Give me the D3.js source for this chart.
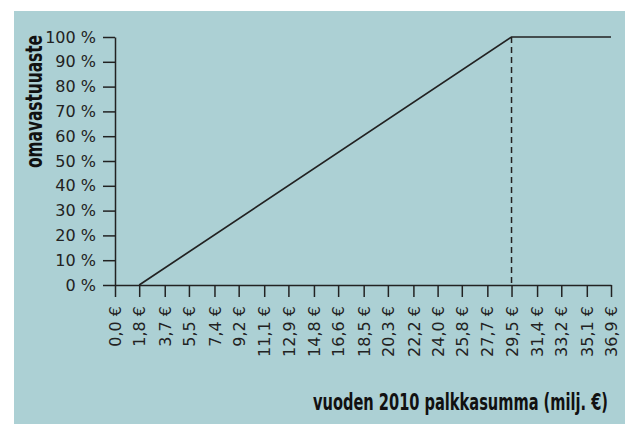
<!DOCTYPE html>
<html>
<head>
<meta charset="utf-8">
<script src="https://cdn.jsdelivr.net/npm/d3@7"></script>
<style>
  body { margin: 0; background: #fff; }
  svg { display: block; }
</style>
</head>
<body>
<svg id="chart" width="625" height="424"></svg>
<script>
// Data
const xTickValues = [0, 1.8, 3.7, 5.5, 7.4, 9.2, 11.1, 12.9, 14.8, 16.6, 18.5,
    20.3, 22.2, 24.0, 25.8, 27.7, 29.5, 31.4, 33.2, 35.1, 36.9];
const yTickValues = [0, 10, 20, 30, 40, 50, 60, 70, 80, 90, 100];
const lineX = [1.8, 29.5, 36.9];
const lineY = [0, 100, 100];
const capX = 29.5; // dashed marker
const xTitle = "vuoden 2010 palkkasumma (milj. €)";
const yTitle = "omavastuuaste";

const CHART = {
    margin: { top: 37, right: 14, bottom: 139, left: 115 },
    width: 625,
    height: 424,
};

function fmtEuro(v) {
    return v.toFixed(1).replace(".", ",") + " €";
}

function drawChart(chart) {
    const svg = d3.select("#chart");
    const w = chart.width - chart.margin.left - chart.margin.right;
    const h = chart.height - chart.margin.top - chart.margin.bottom;

    // background panel
    svg.append("rect")
        .attr("x", 14).attr("y", 11)
        .attr("width", chart.width - 14).attr("height", chart.height - 11)
        .attr("fill", "#acd0d4");

    const x = d3.scaleLinear().domain([0, 36.9]).range([0, w]);
    const y = d3.scaleLinear().domain([0, 100]).range([h, 0]);

    const g = svg.append("g")
        .attr("transform", `translate(${chart.margin.left},${chart.margin.top})`);

    // y axis
    const yAxis = g.append("g")
        .call(d3.axisLeft(y).tickValues(yTickValues).tickSize(12).tickSizeOuter(0)
            .tickPadding(7).tickFormat((d) => d + " %"));
    // x axis
    const xAxis = g.append("g")
        .attr("transform", `translate(0,${h})`)
        .call(d3.axisBottom(x).tickValues(xTickValues).tickSize(12).tickSizeOuter(0)
            .tickFormat(fmtEuro));

    xAxis.selectAll("text")
        .attr("transform", "rotate(-90)")
        .attr("text-anchor", "end")
        .attr("x", -21)
        .attr("y", 0)
        .attr("dy", "0.35em");

    [xAxis, yAxis].forEach((a) => {
        a.attr("font-family", null).attr("font-size", null);
        a.selectAll(".domain").attr("stroke", "#222").attr("stroke-width", 1.5);
        a.selectAll(".tick line").attr("stroke", "#222").attr("stroke-width", 1.5);
        a.selectAll("text")
            .attr("fill", "#222")
            .style("font-family", "'DejaVu Sans'")
            .style("font-size", "16px");
    });

    // dashed vertical at the cap
    g.append("line")
        .attr("x1", x(capX)).attr("x2", x(capX))
        .attr("y1", y(100)).attr("y2", y(0))
        .attr("stroke", "#222").attr("stroke-width", 1.5)
        .attr("stroke-dasharray", "6,4");

    // the line
    const line = d3.line()
        .x((d) => x(d[0]))
        .y((d) => y(d[1]));
    g.append("path")
        .datum(lineX.map((v, i) => [v, lineY[i]]))
        .attr("fill", "none")
        .attr("stroke", "#222")
        .attr("stroke-width", 1.7)
        .attr("d", line);

    // axis titles
    svg.append("text")
        .attr("transform", "translate(42,35) rotate(-90)")
        .attr("text-anchor", "end")
        .attr("textLength", 133)
        .attr("lengthAdjust", "spacingAndGlyphs")
        .style("font-family", "'DejaVu Sans Condensed', 'DejaVu Sans', sans-serif")
        .style("font-weight", "bold")
        .style("font-size", "23px")
        .attr("fill", "#111")
        .text(yTitle);

    svg.append("text")
        .attr("x", 313).attr("y", 410)
        .attr("textLength", 295)
        .attr("lengthAdjust", "spacingAndGlyphs")
        .style("font-family", "'DejaVu Sans Condensed', 'DejaVu Sans', sans-serif")
        .style("font-weight", "bold")
        .style("font-size", "23px")
        .attr("fill", "#111")
        .text(xTitle);
}

window.addEventListener("load", function () {
    drawChart(CHART);
});
</script>
</body>
</html>
